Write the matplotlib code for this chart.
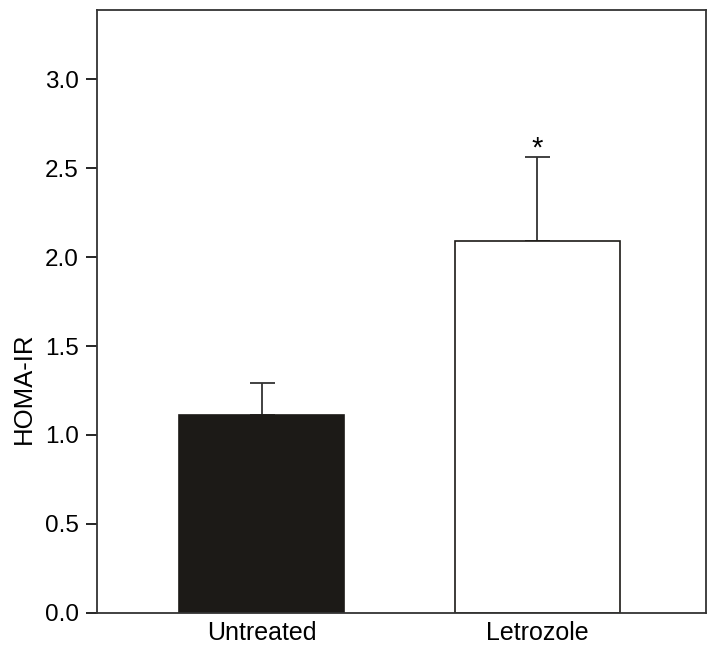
import matplotlib.pyplot as plt

plt.rcParams['font.family'] = ['Liberation Sans', 'DejaVu Sans']

groups = ['Untreated', 'Letrozole']
homa_ir = [1.11, 2.09]
sem = [0.18, 0.47]
colors = ['#1c1a17', 'white']

fig = plt.figure(figsize=(7.12, 6.52), dpi=100)
ax = fig.add_axes([0.136, 0.06, 0.856, 0.925])

x = [0, 1]
ax.bar(x, homa_ir, width=0.6, color=colors, edgecolor='#1c1a17', linewidth=1.2, zorder=2)
ax.errorbar(x, homa_ir, yerr=[[0, 0], sem], fmt='none', ecolor='#333333',
            elinewidth=1.3, capsize=9, capthick=1.3, zorder=1)

# significance marker
ax.text(1, homa_ir[1] + sem[1] - 0.03, '*', ha='center', va='bottom', fontsize=21)

ax.set_xlim(-0.6, 1.615)
ax.set_ylim(0, 3.39)
ax.set_yticks([0, 0.5, 1.0, 1.5, 2.0, 2.5, 3.0])
ax.set_yticklabels(['0.0', '0.5', '1.0', '1.5', '2.0', '2.5', '3.0'])
ax.set_xticks(x)
ax.set_xticklabels(groups)
ax.tick_params(axis='y', direction='out', length=8, width=1.2, labelsize=17.5, pad=5)
ax.tick_params(axis='x', length=0, labelsize=18, pad=6)
ax.set_ylabel('HOMA-IR', fontsize=18.5)
ax.yaxis.set_label_coords(-0.1, 0.373)

for s in ax.spines.values():
    s.set_linewidth(1.3)
    s.set_color('#333333')

fig.savefig('out.png', dpi=100)
